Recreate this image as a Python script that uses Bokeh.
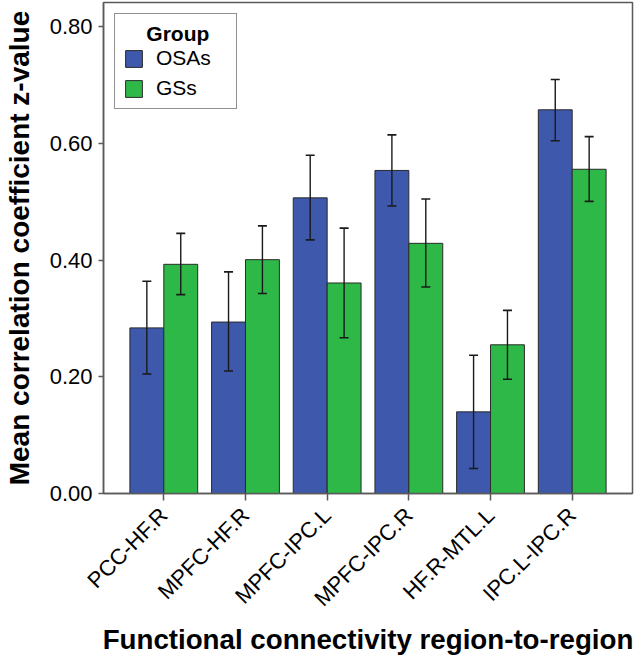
import math
from bokeh.plotting import figure
from bokeh.models import (ColumnDataSource, FactorRange, Range1d, Whisker, TeeHead,
                          Legend, LegendItem, FixedTicker, NumeralTickFormatter)
from bokeh.transform import dodge
from bokeh.embed import file_html
from bokeh.resources import INLINE

regions = ["PCC-HF.R", "MPFC-HF.R", "MPFC-IPC.L", "MPFC-IPC.R", "HF.R-MTL.L", "IPC.L-IPC.R"]
groups = ["OSAs", "GSs"]

osa_mean = [0.284, 0.294, 0.507, 0.554, 0.140, 0.658]
osa_low = [0.205, 0.210, 0.435, 0.493, 0.043, 0.605]
osa_high = [0.364, 0.380, 0.580, 0.615, 0.237, 0.710]

gs_mean = [0.393, 0.401, 0.361, 0.429, 0.255, 0.556]
gs_low = [0.341, 0.343, 0.267, 0.354, 0.196, 0.501]
gs_high = [0.446, 0.459, 0.455, 0.505, 0.314, 0.612]

y_ticks = [0.0, 0.2, 0.4, 0.6, 0.8]

FONT = "Liberation Sans"
BLUE = "#3E58AC"
GREEN = "#2EB848"
EDGE = "#2a2a2a"
FRAME = "#5a5a5a"
ERR = "#1a1a1a"

src = ColumnDataSource(data=dict(region=regions,
                                 osa=osa_mean, osa_lo=osa_low, osa_hi=osa_high,
                                 gs=gs_mean, gs_lo=gs_low, gs_hi=gs_high))

p = figure(x_range=FactorRange(factors=regions, range_padding=0.0794),
           y_range=Range1d(0, 0.842),
           width=634, height=657,
           output_backend="svg", toolbar_location=None,
           min_border_left=99, min_border_right=2, min_border_top=2, min_border_bottom=163)

bw = 0.415
off = bw / 2
r1 = p.vbar(x=dodge("region", -off, range=p.x_range), top="osa", width=bw, source=src,
            fill_color=BLUE, line_color=EDGE, line_width=1)
r2 = p.vbar(x=dodge("region", off, range=p.x_range), top="gs", width=bw, source=src,
            fill_color=GREEN, line_color=EDGE, line_width=1)

for xo, lo, hi in [(-off, "osa_lo", "osa_hi"), (off, "gs_lo", "gs_hi")]:
    w = Whisker(base=dodge("region", xo, range=p.x_range), lower=lo, upper=hi, source=src,
                level="overlay", line_color=ERR, line_width=1.4,
                upper_head=TeeHead(size=9, line_color=ERR, line_width=1.6),
                lower_head=TeeHead(size=9, line_color=ERR, line_width=1.6))
    p.add_layout(w)

legend = Legend(items=[LegendItem(label=groups[0], renderers=[r1]),
                       LegendItem(label=groups[1], renderers=[r2])],
                location=(11, 384), title="\u00a0\u00a0\u00a0\u00a0Group")
legend.title_text_font = FONT
legend.title_text_font_style = "bold"
legend.title_text_font_size = "21px"
legend.title_text_color = "black"
legend.title_standoff = 0
legend.label_text_font = FONT
legend.label_text_font_size = "21px"
legend.label_text_color = "black"
legend.glyph_width = 21
legend.glyph_height = 21
legend.label_height = 21
legend.label_width = 72
legend.label_standoff = 12
legend.spacing = 6
legend.padding = 8
legend.margin = 0
legend.border_line_color = "#222222"
legend.border_line_width = 1.3
legend.background_fill_alpha = 1
p.add_layout(legend)

p.xgrid.visible = False
p.ygrid.visible = False
p.outline_line_color = FRAME
p.outline_line_width = 1.5

p.yaxis.ticker = FixedTicker(ticks=y_ticks)
p.yaxis.formatter = NumeralTickFormatter(format="0.00")
p.yaxis.minor_tick_line_color = None
p.yaxis.major_tick_in = 0
p.yaxis.major_tick_out = 5
p.yaxis.major_label_standoff = 6
p.yaxis.axis_label = "Mean correlation coefficient z-value"
p.yaxis.axis_label_standoff = 12

p.xaxis.major_tick_in = 0
p.xaxis.major_tick_out = 7
p.xaxis.major_label_orientation = math.pi / 4
p.xaxis.major_label_standoff = 11
p.xaxis.axis_label = "Functional connectivity region-to-region"
p.xaxis.axis_label_standoff = 1

for ax in (p.xaxis, p.yaxis):
    ax.axis_line_color = FRAME
    ax.axis_line_width = 1.5
    ax.major_tick_line_color = FRAME
    ax.major_tick_line_width = 1.5
    ax.major_label_text_font = FONT
    ax.major_label_text_font_size = "22px"
    ax.major_label_text_color = "black"
    ax.axis_label_text_font = FONT
    ax.axis_label_text_font_size = "28px"
    ax.axis_label_text_font_style = "bold"
    ax.axis_label_text_color = "black"
p.xaxis.axis_label_text_font_size = "27.7px"

open("out.html", "w").write(file_html(p, INLINE))
